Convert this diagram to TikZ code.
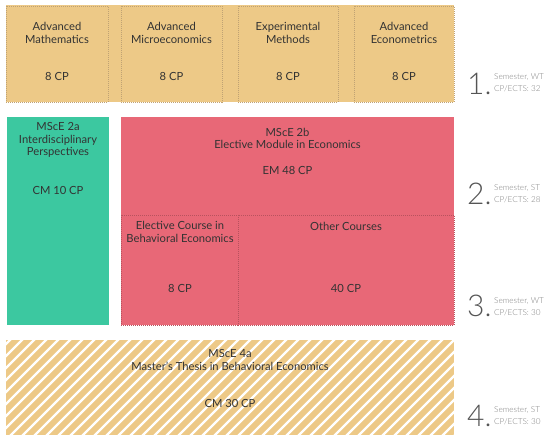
\documentclass[tikz,border=0pt]{standalone}
\usepackage{fontspec}
\setmainfont{Lato}
\IfFontExistsTF{Lato Light}{\newfontfamily\thinfont{Lato Light}}{\newfontfamily\thinfont{Lato}}
\IfFontExistsTF{Lato Light}{\newfontfamily\lightfont{Lato Light}}{\newfontfamily\lightfont{Lato}}
\definecolor{tan}{HTML}{EDC987}
\definecolor{tanline}{HTML}{BFA274}
\definecolor{redbox}{HTML}{E86877}
\definecolor{redline}{HTML}{B8525E}
\definecolor{greenbox}{HTML}{3CC8A0}
\definecolor{txt}{HTML}{333333}
\definecolor{semtxt}{HTML}{808080}
\definecolor{numtxt}{HTML}{555555}
\tikzset{
  lbl/.style={font=\fontsize{11.2}{12.6}\selectfont, text=txt, inner sep=0pt, align=center},
  num/.style={font=\thinfont\fontsize{30}{30}\selectfont, text=numtxt, inner sep=0pt, anchor=base west},
  sem/.style={font=\lightfont\fontsize{8.2}{11.5}\selectfont, text=semtxt, inner sep=0pt, anchor=west, align=left},
  cbox/.style={draw=tanline, line width=0.5pt, dash pattern=on 1pt off 1pt, fill=tan},
  rsub/.style={draw=redline, line width=0.5pt, dash pattern=on 1pt off 1pt},
}
\begin{document}
\begin{tikzpicture}[x=1pt,y=-1pt]
\useasboundingbox (0,0) rectangle (550,435);
% top band
\fill[tan] (6,5) rectangle (454,102);
\draw[cbox] (6,6) rectangle (108,102);
\draw[cbox] (121,6) rectangle (222,102);
\draw[cbox] (238,6) rectangle (338,102);
\draw[cbox] (354,6) rectangle (454,102);
\node[lbl] (m1) at (57,33) {Advanced\\Mathematics};
\node[lbl] (m1cp) at (57,76) {8 CP};
\node[lbl] (m2) at (171.5,33) {Advanced\\Microeconomics};
\node[lbl] (m2cp) at (171.5,76) {8 CP};
\node[lbl] (m3) at (288,33) {Experimental\\Methods};
\node[lbl] (m3cp) at (288,76) {8 CP};
\node[lbl] (m4) at (404,33) {Advanced\\Econometrics};
\node[lbl] (m4cp) at (404,76) {8 CP};
% green
\fill[greenbox] (7,117) rectangle (109,325);
\node[lbl] (g1) at (58,140) {MScE 2a\\Interdisciplinary\\Perspectives};
\node[lbl] (g1cp) at (58,190) {CM 10 CP};
% red
\fill[redbox] (121,117) rectangle (454,325);
\draw[rsub] (121,215) rectangle (238,325);
\draw[rsub] (238,215) rectangle (454,325);
\node[lbl] (r1) at (287.5,138.5) {MScE 2b\\Elective Module in Economics};
\node[lbl] (r1cp) at (287.5,170) {EM 48 CP};
\node[lbl] (r2) at (180,232) {Elective Course in\\Behavioral Economics};
\node[lbl] (r2cp) at (180,288) {8 CP};
\node[lbl] (r3) at (346,226) {Other Courses};
\node[lbl] (r3cp) at (346,288) {40 CP};
% hatched thesis
\begin{scope}
\clip (6,340) rectangle (454,435);
\fill[tan] (6,340) rectangle (454,435);
\foreach \i in {-12,-24,...,-600} {
  \draw[white, line width=2.3pt] (6+\i,440) -- (6+\i+120,320);
}
\foreach \i in {0,12,...,540} {
  \draw[white, line width=2.3pt] (6+\i,440) -- (6+\i+120,320);
}
\end{scope}
\node[lbl] (t1) at (230,360) {MScE 4a\\Master's Thesis in Behavioral Economics};
\node[lbl] (t1cp) at (230,403) {CM 30 CP};
% semesters
\node[num] (n1) at (467,95) {1.};
\node[sem] (s1) at (494,82.5) {Semester, WT\\CP/ECTS: 32};
\node[num] (n2) at (467,205) {2.};
\node[sem] (s2) at (494,193.5) {Semester, ST\\CP/ECTS: 28};
\node[num] (n3) at (467,317) {3.};
\node[sem] (s3) at (494,306.5) {Semester, WT\\CP/ECTS: 30};
\node[num] (n4) at (467,427) {4.};
\node[sem] (s4) at (494,415.5) {Semester, ST\\CP/ECTS: 30};
\end{tikzpicture}
\end{document}
